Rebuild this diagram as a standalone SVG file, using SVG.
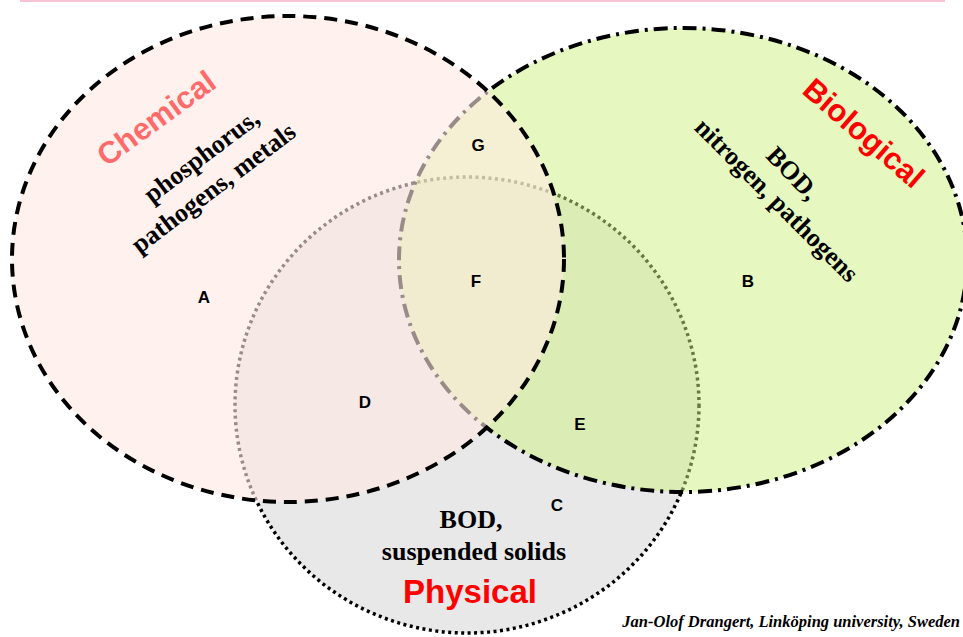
<svg xmlns="http://www.w3.org/2000/svg" width="963" height="637" viewBox="0 0 963 637">
<style>
.lab{font-family:"Liberation Sans",Arial,sans-serif;font-weight:bold;text-anchor:middle}
.big{font-family:"Liberation Sans",Arial,sans-serif;font-weight:bold;font-size:31px;text-anchor:middle}
.body{font-family:"Liberation Serif","Times New Roman",serif;font-weight:bold;font-size:26px;text-anchor:middle;fill:#000}
.reg{font-family:"Liberation Sans",Arial,sans-serif;font-weight:bold;font-size:17px;text-anchor:middle;fill:#000}
</style>
<rect x="0" y="0" width="963" height="637" fill="#fff"/>
<rect x="20" y="0" width="925" height="2" fill="#f9c3d3"/>
<g id="physical">
<ellipse cx="467" cy="405" rx="232" ry="228" fill="#e8e8e8" stroke="#000" stroke-width="3.5" stroke-dasharray="3 3.5"/>
<text class="body" x="471" y="528">BOD,</text>
<text class="body" x="474" y="560">suspended solids</text>
<text class="big" x="470" y="603" fill="#ff0000" style="font-size:33px">Physical</text>
</g>
<g id="biological">
<ellipse cx="683" cy="260" rx="284" ry="232" fill="#cdf17f" fill-opacity="0.5" stroke="#000" stroke-width="4" stroke-dasharray="14 6 3 6"/>
<g transform="translate(862,135) rotate(41)"><text class="big" x="0" y="8" fill="#ff0000">Biological</text></g>
<g transform="translate(793,173) rotate(46)"><text class="body" x="0" y="9">BOD,</text></g>
<g transform="translate(775,202) rotate(45)"><text class="body" x="0" y="6">nitrogen, pathogens</text></g>
</g>
<g id="chemical">
<ellipse cx="288" cy="259" rx="276" ry="243" fill="#ffe9e3" fill-opacity="0.6" stroke="#000" stroke-width="4" stroke-dasharray="13 8"/>
<g transform="translate(156,118) rotate(-36)"><text class="big" x="0" y="11" fill="#ff6b6b">Chemical</text></g>
<g transform="translate(203,158) rotate(-37)"><text class="body" x="0" y="6">phosphorus,</text></g>
<g transform="translate(215,190) rotate(-37)"><text class="body" x="0" y="6">pathogens, metals</text></g>
</g>
<g id="connectors"/>
<g id="regions">
<text class="reg" x="204" y="303">A</text>
<text class="reg" x="748" y="287">B</text>
<text class="reg" x="557" y="511">C</text>
<text class="reg" x="365" y="408">D</text>
<text class="reg" x="580" y="430">E</text>
<text class="reg" x="476" y="287">F</text>
<text class="reg" x="478" y="151">G</text>
</g>
<text x="960" y="627" font-family="Liberation Serif,'Times New Roman',serif" font-style="italic" font-weight="bold" font-size="16.5" text-anchor="end">Jan-Olof  Drangert, Linköping university, Sweden</text>
</svg>
